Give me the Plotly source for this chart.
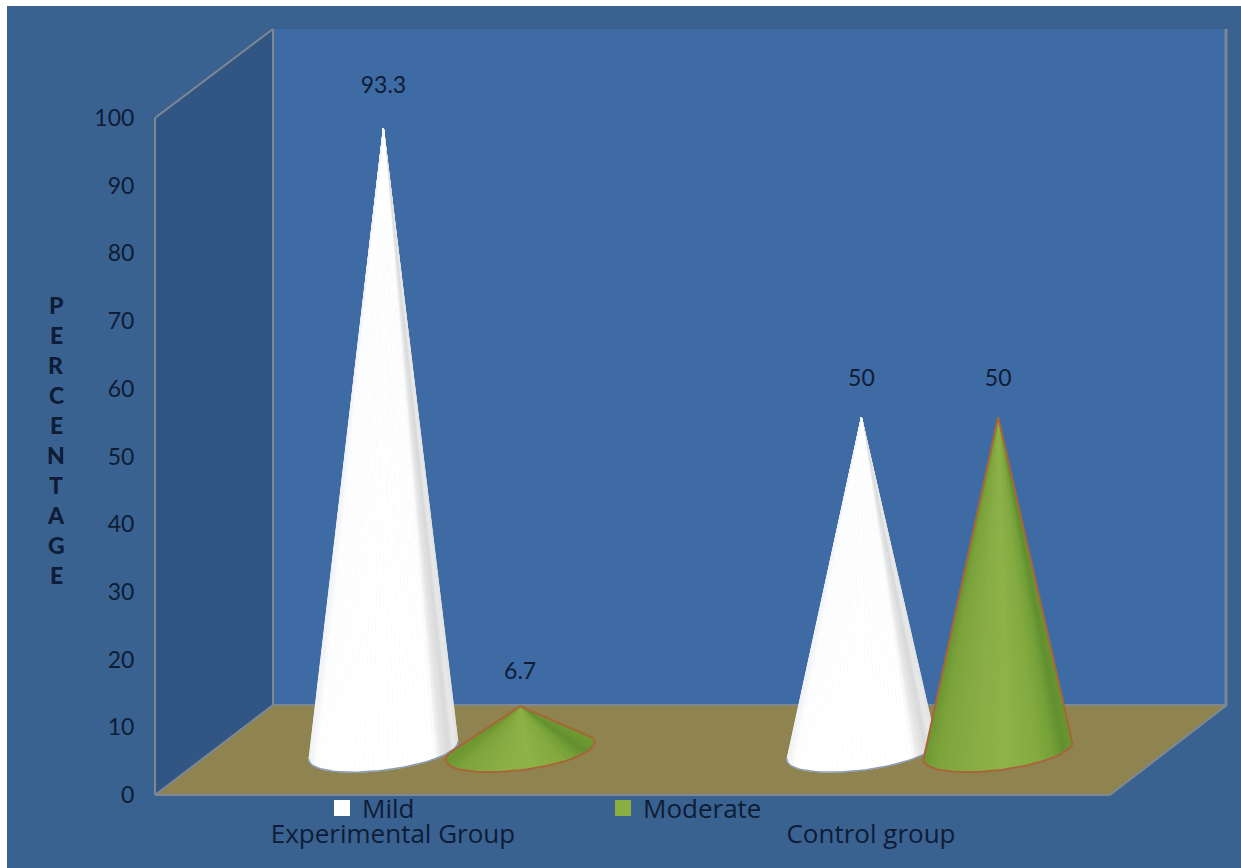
import numpy as np
import plotly.graph_objects as go

# Chart data
categories = ["Experimental Group", "Control group"]
mild = [93.3, 50]
moderate = [6.7, 50]
y_ticks = [0, 10, 20, 30, 40, 50, 60, 70, 80, 90, 100]
axis_title = "PERCENTAGE"

W, H = 1241, 868
TEXT = "#0e1c36"
FONT = "Lato"
WIDE_FONT = "Open Sans"

# Pixel calibration of the scales: value 0 and 100, first and second category
Y0_PX, Y100_PX = 795, 118
X0_PX, X1_PX = 393, 871
PX_PER_Y = (Y0_PX - Y100_PX) / 100
PX_PER_X = X1_PX - X0_PX

# Cone projection: floor depth lifts the base, depth foreshortens the height
BASE_LIFT = 6.5
HEIGHT_SCALE = 0.986
SEMI_X = 0.156
SEMI_Y = 2.85
TILT = 1.3
LABEL_GAP = 11.3
OFFSET = {"Mild": -0.02, "Moderate": 0.266}

WHITE_STOPS = [(0, "#f2f4f7"), (0.05, "#ffffff"), (0.84, "#ffffff"), (0.88, "#e8e8e8"),
               (0.94, "#dadada"), (0.97, "#ececec"), (1, "#e2e2e2")]
GREEN_STOPS = [(0, "#6c9832"), (0.08, "#7da33b"), (0.35, "#8aae45"), (0.55, "#8fb347"),
               (0.76, "#84ab40"), (0.86, "#76a239"), (0.94, "#62902f"), (1, "#6d9a31")]


def px(x, y):
    return x / W, 1 - y / H


def polygon(points, fill=None, line=None, width=2):
    path = "M " + " L ".join("{:.5f},{:.5f}".format(*px(*p)) for p in points) + " Z"
    return dict(type="path", xref="paper", yref="paper", path=path, layer="below",
                fillcolor=fill or "rgba(0,0,0,0)",
                line=dict(color=line or "rgba(0,0,0,0)", width=width if line else 0))


def segment(a, b, width=2):
    (x0, y0), (x1, y1) = px(*a), px(*b)
    return dict(type="line", xref="paper", yref="paper", x0=x0, y0=y0, x1=x1, y1=y1,
                layer="below", line=dict(color="#7d8894", width=width))


def blend(stops, u):
    for (u0, c0), (u1, c1) in zip(stops, stops[1:]):
        if u <= u1:
            f = (u - u0) / (u1 - u0) if u1 > u0 else 0
            a = [int(c0[i:i + 2], 16) for i in (1, 3, 5)]
            b = [int(c1[i:i + 2], 16) for i in (1, 3, 5)]
            return "rgb({},{},{})".format(*[round(p + (q - p) * f) for p, q in zip(a, b)])
    return stops[-1][1]


def apex_y(value):
    return BASE_LIFT + HEIGHT_SCALE * value


def cone_traces(cx, value, stops, outline, outline_w, sides=True, slices=48):
    """Facets of one cone, painted as thin triangles, plus its outline."""
    ay = apex_y(value)

    def rim(t):
        return cx + SEMI_X * np.cos(t), BASE_LIFT - SEMI_Y * np.sin(t) + TILT * np.cos(t)

    grid = np.linspace(-np.pi / 2, 1.5 * np.pi, 1441)
    rx, ry = rim(grid)
    ratio = (rx - cx) / (ay - ry)
    t_right, t_left = grid[np.argmax(ratio)], grid[np.argmin(ratio)]
    ts = np.linspace(t_right, t_left, slices + 1)
    xs, ys = rim(ts)
    span = xs.max() - xs.min()
    traces = []
    for i in range(slices):
        u = ((xs[i] + xs[i + 1]) / 2 - xs.min()) / span
        color = blend(stops, float(u))
        traces.append(go.Scatter(
            x=[cx, xs[i], xs[i + 1], cx], y=[ay, ys[i], ys[i + 1], ay],
            mode="lines", fill="toself", fillcolor=color,
            line=dict(color=color, width=0.8), hoverinfo="skip", showlegend=False))
    edge_x = [cx, *xs, cx] if sides else list(xs)
    edge_y = [ay, *ys, ay] if sides else list(ys)
    traces.append(go.Scatter(
        x=edge_x, y=edge_y, mode="lines",
        line=dict(color=outline, width=outline_w), hoverinfo="skip", showlegend=False))
    return traces


fig = go.Figure()

# Legend entries
for name, color in (("Mild", "#ffffff"), ("Moderate", "#8aae3f")):
    fig.add_trace(go.Scatter(x=[None], y=[None], name=name, mode="markers",
                             marker=dict(symbol="square", size=18, color=color, line=dict(width=0))))

# Cones, white series first so the green ones sit in front
for i, v in enumerate(mild):
    fig.add_traces(cone_traces(i + OFFSET["Mild"], v, WHITE_STOPS, "rgba(125,145,175,0.9)", 1.5, sides=False))
for i, v in enumerate(moderate):
    fig.add_traces(cone_traces(i + OFFSET["Moderate"], v, GREEN_STOPS, "#a8653a", 2))

# Value labels above each apex
label_x, label_y, label_text = [], [], []
for series, key in ((mild, "Mild"), (moderate, "Moderate")):
    for i, v in enumerate(series):
        label_x.append(i + OFFSET[key])
        label_y.append(v + LABEL_GAP)
        label_text.append(str(v))
fig.add_trace(go.Scatter(x=label_x, y=label_y, text=label_text, mode="text",
                         textposition="middle center", hoverinfo="skip", showlegend=False,
                         textfont=dict(family=FONT, size=23, color=TEXT)))

# Chart frame: panel, back wall, side wall, floor
shapes = [
    polygon([(7, 6), (W, 6), (W, H), (7, H)], fill="#396291"),
    polygon([(273, 29), (1227, 29), (1227, 705), (273, 705)], fill="#3e6ba3"),
    polygon([(155, 118), (273, 29), (273, 705), (155, 795)], fill="#315683"),
    polygon([(273, 705), (1227, 705), (1110, 795), (155, 795)], fill="#8f8350"),
    segment((155, 118), (273, 29)),
    segment((273, 29), (273, 705)),
    segment((155, 118), (155, 795)),
    segment((155, 795), (273, 705)),
    segment((273, 705), (1227, 705)),
    segment((155, 795), (1110, 795)),
    segment((1110, 795), (1227, 705)),
    segment((1226, 29), (1226, 705), 3),
]

# Stacked axis title, one letter per row
annotations = []
for i, letter in enumerate(axis_title):
    ax, ay = px(56, 305 + 30 * i)
    annotations.append(dict(text=letter, xref="paper", yref="paper", x=ax, y=ay,
                            xanchor="center", yanchor="middle", showarrow=False,
                            font=dict(family=FONT, size=23, weight=900, color=TEXT)))

fig.update_layout(
    width=W, height=H, margin=dict(l=0, r=0, t=0, b=0, pad=0),
    paper_bgcolor="#ffffff", plot_bgcolor="rgba(0,0,0,0)",
    shapes=shapes, annotations=annotations,
    showlegend=True,
    legend=dict(orientation="h", x=322 / W, y=1 - 808 / H, xanchor="left", yanchor="middle",
                bgcolor="rgba(0,0,0,0)", entrywidth=236, entrywidthmode="pixels",
                font=dict(family=WIDE_FONT, size=26, color=TEXT), itemclick=False, itemdoubleclick=False),
    xaxis=dict(range=[-X0_PX / PX_PER_X, (W - X0_PX) / PX_PER_X], domain=[0, 1],
               tickmode="array", tickvals=[0, 1], ticktext=categories,
               anchor="free", position=(H - Y0_PX) / H, side="bottom",
               showgrid=False, zeroline=False, showline=False,
               ticks="outside", ticklen=16, tickcolor="rgba(0,0,0,0)",
               tickfont=dict(family=WIDE_FONT, size=26, color=TEXT)),
    yaxis=dict(range=[(Y0_PX - H) / PX_PER_Y, Y0_PX / PX_PER_Y], domain=[0, 1],
               tickmode="array", tickvals=y_ticks,
               anchor="free", position=155 / W, side="left",
               showgrid=False, zeroline=False, showline=False,
               ticks="outside", ticklen=16, tickcolor="rgba(0,0,0,0)",
               tickfont=dict(family=FONT, size=23, color=TEXT)),
)

fig.write_html("out.html")
